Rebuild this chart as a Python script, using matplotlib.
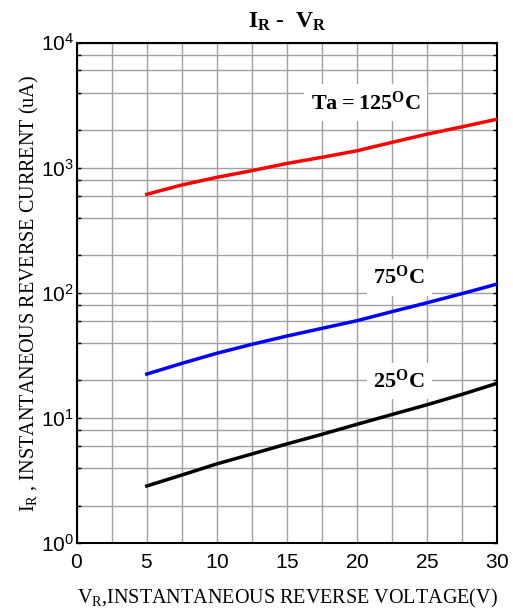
import matplotlib
matplotlib.use("Agg")
import matplotlib.pyplot as plt
from matplotlib.ticker import FixedLocator, FixedFormatter, LogLocator, MultipleLocator, NullFormatter

plt.rcParams["mathtext.fontset"] = "custom"
plt.rcParams["mathtext.rm"] = "Liberation Serif"
plt.rcParams["mathtext.bf"] = "Liberation Serif:bold"
plt.rcParams["mathtext.sf"] = "Liberation Sans"
plt.rcParams["font.family"] = ["Liberation Serif", "DejaVu Serif"]

# Reverse voltage (V)
voltage = [5, 7.5, 10, 12.5, 15, 17.5, 20, 22.5, 25, 27.5, 30]
# Reverse current (uA) at each ambient temperature
current_125c = [615, 730, 840, 950, 1085, 1215, 1370, 1600, 1860, 2130, 2450]
current_75c = [22.5, 27.4, 33, 38.9, 45.3, 52.2, 60.1, 71, 83.6, 99, 118]
current_25c = [2.87, 3.51, 4.31, 5.17, 6.22, 7.43, 8.93, 10.7, 12.8, 15.5, 19.0]

x_ticks = [0, 5, 10, 15, 20, 25, 30]
y_ticks = [1, 10, 100, 1000, 10000]
y_tick_labels = [r"$\mathsf{10^{0}}$", r"$\mathsf{10^{1}}$", r"$\mathsf{10^{2}}$",
                 r"$\mathsf{10^{3}}$", r"$\mathsf{10^{4}}$"]

fig = plt.figure(figsize=(5.13, 6.12), dpi=100)
ax = fig.add_axes([0.1495, 0.1123, 0.8199, 0.8179])

ax.set_yscale("log")
ax.set_xlim(0, 30)
ax.set_ylim(1, 10000)

ax.plot(voltage, current_125c, color="#ff0000", lw=2.5, zorder=3)
ax.plot(voltage, current_75c, color="#0000ff", lw=2.5, zorder=3)
ax.plot(voltage, current_25c, color="#000000", lw=2.5, zorder=3)

ax.xaxis.set_major_locator(FixedLocator(x_ticks))
ax.xaxis.set_minor_locator(MultipleLocator(2.5))
ax.xaxis.set_major_formatter(FixedFormatter([rf"$\mathsf{{{v}}}$" for v in x_ticks]))
ax.yaxis.set_major_locator(FixedLocator(y_ticks))
ax.yaxis.set_major_formatter(FixedFormatter(y_tick_labels))
ax.yaxis.set_minor_locator(LogLocator(base=10, subs=[2, 4, 6, 8]))
ax.yaxis.set_minor_formatter(NullFormatter())

ax.grid(True, which="both", color="#a0a0a0", lw=1.0, zorder=0)
ax.tick_params(which="both", direction="in", length=3, width=1, right=True, top=False,
               labelsize=15)
ax.tick_params(axis="x", which="both", length=0, pad=8)
ax.tick_params(axis="y", which="major", pad=2)
for s in ax.spines.values():
    s.set_linewidth(1.5)
    s.set_color("black")

ax.set_xlabel(r"V$_\mathrm{R}$,INSTANTANEOUS REVERSE VOLTAGE(V)", fontsize=14.5, labelpad=10)
ax.set_ylabel(r"I$_\mathrm{R}$ , INSTANTANEOUS REVERSE CURRENT (uA)", fontsize=14.5, labelpad=0)
ax.set_title(r"$\mathbf{I_{R}}$ -  $\mathbf{V_{R}}$", fontsize=17, pad=11)

box = dict(facecolor="white", edgecolor="none", pad=5)
ax.text(20.6, 3300, r"$\mathbf{Ta=125^{O}C}$", fontsize=16, ha="center", va="center",
        bbox=box, zorder=4)
ax.text(23, 134, r"$\mathbf{75^{O}C}$", fontsize=16, ha="center", va="center",
        bbox=box, zorder=4)
ax.text(23, 19.8, r"$\mathbf{25^{O}C}$", fontsize=16, ha="center", va="center",
        bbox=box, zorder=4)

fig.savefig("out.png", dpi=100)
